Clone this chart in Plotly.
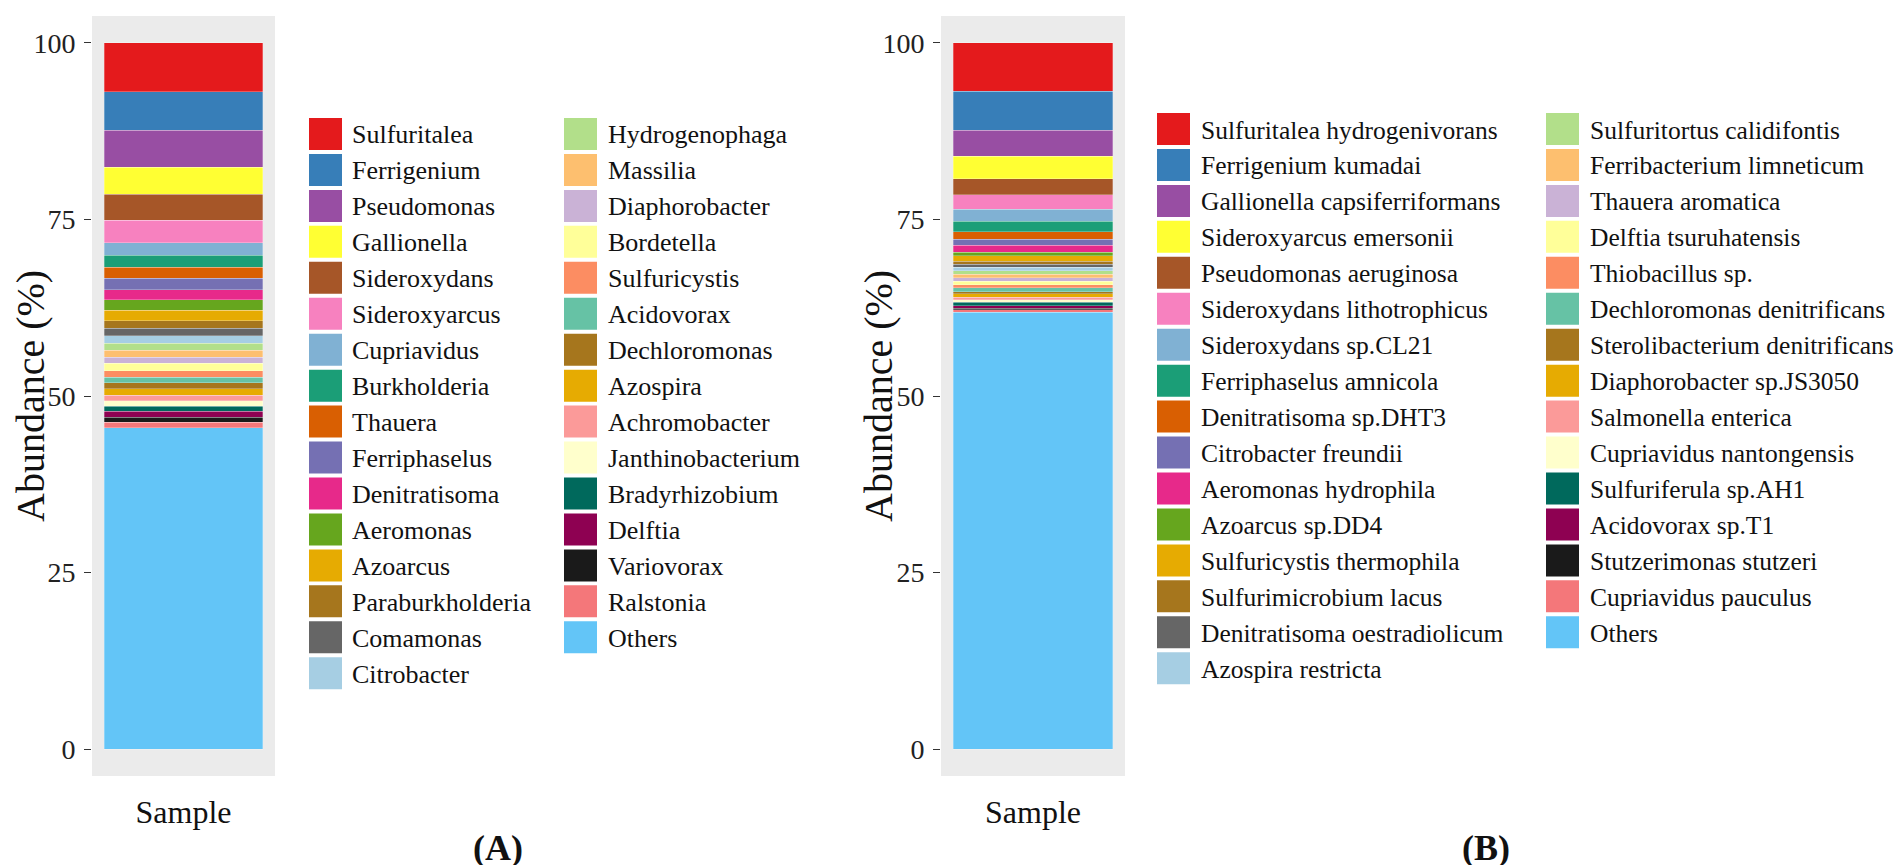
import plotly.graph_objects as go

W, H = 1902, 865

# ---------------- data ----------------
taxa_a = ["Sulfuritalea", "Ferrigenium", "Pseudomonas", "Gallionella", "Sideroxydans",
          "Sideroxyarcus", "Cupriavidus", "Burkholderia", "Thauera", "Ferriphaselus",
          "Denitratisoma", "Aeromonas", "Azoarcus", "Paraburkholderia", "Comamonas",
          "Citrobacter", "Hydrogenophaga", "Massilia", "Diaphorobacter", "Bordetella",
          "Sulfuricystis", "Acidovorax", "Dechloromonas", "Azospira", "Achromobacter",
          "Janthinobacterium", "Bradyrhizobium", "Delftia", "Variovorax", "Ralstonia", "Others"]
values_a = [6.89, 5.51, 5.18, 3.85, 3.66, 3.18, 1.81, 1.66, 1.62, 1.57, 1.47, 1.43, 1.52,
            1.09, 1.05, 1.05, 0.95, 1.00, 0.90, 1.00, 0.95, 0.80, 0.86, 0.90, 0.78, 0.80,
            0.71, 0.85, 0.71, 0.71, 45.54]

taxa_b = ["Sulfuritalea hydrogenivorans", "Ferrigenium kumadai", "Gallionella capsiferriformans",
          "Sideroxyarcus emersonii", "Pseudomonas aeruginosa", "Sideroxydans lithotrophicus",
          "Sideroxydans sp.CL21", "Ferriphaselus amnicola", "Denitratisoma sp.DHT3",
          "Citrobacter freundii", "Aeromonas hydrophila", "Azoarcus sp.DD4",
          "Sulfuricystis thermophila", "Sulfurimicrobium lacus", "Denitratisoma oestradiolicum",
          "Azospira restricta", "Sulfuritortus calidifontis", "Ferribacterium limneticum",
          "Thauera aromatica", "Delftia tsuruhatensis", "Thiobacillus sp.",
          "Dechloromonas denitrificans", "Sterolibacterium denitrificans", "Diaphorobacter sp.JS3050",
          "Salmonella enterica", "Cupriavidus nantongensis", "Sulfuriferula sp.AH1",
          "Acidovorax sp.T1", "Stutzerimonas stutzeri", "Cupriavidus pauculus", "Others"]
values_b = [6.84, 5.50, 3.73, 3.20, 2.25, 2.06, 1.67, 1.53, 1.00, 0.86, 1.00, 0.53, 0.72,
            0.48, 0.43, 0.48, 0.48, 0.53, 0.48, 0.48, 0.43, 0.53, 0.33, 0.48, 0.38, 0.33,
            0.48, 0.38, 0.20, 0.38, 61.83]

colors = ["#E41A1C", "#377EB8", "#984EA3", "#FFFF33", "#A65628", "#F781BF", "#80B1D3",
          "#1B9E77", "#D95F02", "#7570B3", "#E7298A", "#66A61E", "#E6AB02", "#A6761D",
          "#666666", "#A6CEE3", "#B2DF8A", "#FDBF6F", "#CAB2D6", "#FFFF99", "#FC8D62",
          "#66C2A5", "#A6761D", "#E6AB02", "#FB9A99", "#FFFFCC", "#00695C", "#8E0152",
          "#1A1A1A", "#F4777A", "#63C5F7"]

sample = ["Sample"]
y_ticks = [0, 25, 50, 75, 100]

FONT = "Liberation Serif"

def px(x):
    return x / W

def py(y):
    return 1 - y / H

fig = go.Figure()

for names, vals, xa, ya in [(taxa_a, values_a, "x", "y"), (taxa_b, values_b, "x2", "y2")]:
    for name, v, c in reversed(list(zip(names, vals, colors))):
        fig.add_trace(go.Bar(x=sample, y=[v], name=name, marker_color=c,
                             marker_line_width=0.6, marker_line_color="rgba(255,255,255,0.45)",
                             xaxis=xa, yaxis=ya, showlegend=False))

yax = dict(range=[-3.8, 103.8], tickvals=y_ticks, ticks="outside", ticklen=7, tickwidth=1.2,
           tickcolor="#333333", showgrid=False, zeroline=False, showline=False,
           tickfont=dict(family=FONT, size=28, color="#222222"),
           domain=[py(768), py(8)], ticklabelstandoff=3)
xax = dict(type="category", range=[-0.518, 0.518], showgrid=False, zeroline=False,
           showline=False, ticks="", tickfont=dict(family=FONT, size=32, color="#111111"),
           ticklabelstandoff=14)

fig.update_layout(
    width=W, height=H, margin=dict(l=0, r=0, t=0, b=0),
    paper_bgcolor="white", plot_bgcolor="#EBEBEB",
    barmode="stack", bargap=0.1,
    xaxis=dict(xax, domain=[px(84), px(267)], anchor="y"),
    yaxis=dict(yax, anchor="x"),
    xaxis2=dict(xax, domain=[px(933), px(1117)], anchor="y2"),
    yaxis2=dict(yax, anchor="x2"),
    font=dict(family=FONT),
)

shapes = []
annotations = []

# custom legends (two columns each)
def build_legend(names, col_x, text_x, y0, step=35.95, per_col=16, sw=33, sh=32, fs=26):
    for i, (name, c) in enumerate(zip(names, colors)):
        col, row = divmod(i, per_col)
        cy = y0 + row * step
        shapes.append(dict(type="rect", xref="paper", yref="paper",
                           x0=px(col_x[col]), x1=px(col_x[col] + sw),
                           y0=py(cy + sh / 2), y1=py(cy - sh / 2),
                           fillcolor=c, line_width=0))
        annotations.append(dict(xref="paper", yref="paper", x=px(text_x[col]), y=py(cy + 1),
                                text=name, showarrow=False, xanchor="left", yanchor="middle",
                                borderpad=0,
                                font=dict(family=FONT, size=fs, color="#111111")))

build_legend(taxa_a, [301, 556], [343, 599], 126)
build_legend(taxa_b, [1149, 1538], [1192, 1581], 121, fs=25.5)

# axis titles
for xc in [22, 870]:
    annotations.append(dict(xref="paper", yref="paper", x=px(xc), y=py(388),
                            text="Abundance (%)", textangle=-90, showarrow=False,
                            xanchor="center", yanchor="middle",
                            font=dict(family=FONT, size=40, color="#111111")))

# panel labels
annotations.append(dict(xref="paper", yref="paper", x=px(490), y=py(840), text="<b>(A)</b>",
                        showarrow=False, xanchor="center", yanchor="middle",
                        font=dict(family=FONT, size=36, color="#111111")))
annotations.append(dict(xref="paper", yref="paper", x=px(1478), y=py(840), text="<b>(B)</b>",
                        showarrow=False, xanchor="center", yanchor="middle",
                        font=dict(family=FONT, size=36, color="#111111")))

fig.update_layout(shapes=shapes, annotations=annotations)
fig.write_html("out.html")
